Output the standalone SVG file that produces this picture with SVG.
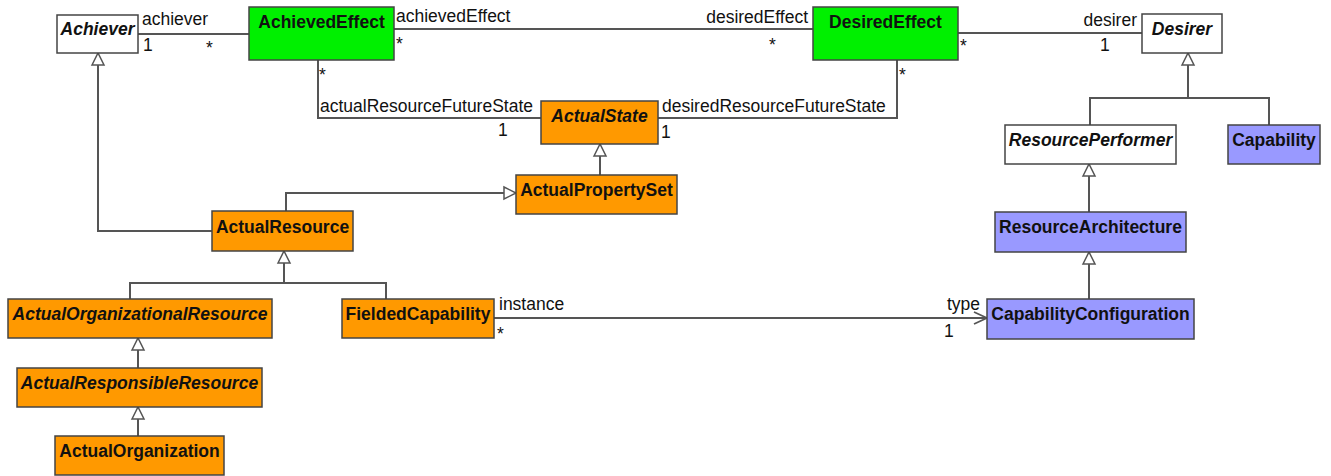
<svg xmlns="http://www.w3.org/2000/svg" width="1331" height="476" viewBox="0 0 1331 476">
<style>
.box{stroke:#444;stroke-width:1.5}
.w{fill:#fff}.g{fill:#00f000}.o{fill:#ff9900}.p{fill:#9999ff}
.t{font-family:"Liberation Sans",Arial,sans-serif;font-weight:bold;font-size:17.5px;fill:#111;text-anchor:middle}
.i{font-style:italic}
.l{font-family:"Liberation Sans",Arial,sans-serif;font-size:17.5px;fill:#111}
.e{text-anchor:end}
.c{fill:none;stroke:#555;stroke-width:2}
.gen{marker-end:url(#tri)}
</style>
<defs>
<marker id="tri" markerUnits="userSpaceOnUse" markerWidth="16" markerHeight="16" refX="13" refY="7" orient="auto" viewBox="0 0 16 14">
<path d="M1,1 L13,7 L1,13 z" fill="#fff" stroke="#555" stroke-width="1.5"/>
</marker>
<marker id="open" markerUnits="userSpaceOnUse" markerWidth="16" markerHeight="16" refX="14" refY="7" orient="auto" viewBox="0 0 16 14">
<path d="M1,1 L14,7 L1,13" fill="none" stroke="#555" stroke-width="1.8"/>
</marker>
</defs>
<g id="connectors">
<path class="c" d="M138,34 H249"/>
<path class="c" d="M394,29 H813"/>
<path class="c" d="M958,33 H1142"/>
<path class="c" d="M318,60 V118 H541"/>
<path class="c" d="M897,60 V118 H658"/>
<path class="c" d="M494,318 H987" marker-end="url(#open)"/>
<path class="c gen" d="M212,231 H98 V53"/>
<path class="c gen" d="M286,211 V193 H516"/>
<path class="c gen" d="M600,175 V144"/>
<path class="c gen" d="M284,283 V251"/>
<path class="c" d="M130,299 V283 H386 V299"/>
<path class="c gen" d="M138,368 V338"/>
<path class="c gen" d="M138,436 V407"/>
<path class="c gen" d="M1188,98 V53"/>
<path class="c" d="M1090,125 V98 H1269 V125"/>
<path class="c gen" d="M1089,212 V164"/>
<path class="c gen" d="M1089,299 V252"/>
<text class="l" x="142" y="25">achiever</text>
<text class="l" x="143" y="51">1</text>
<text class="l" x="206" y="54">*</text>
<text class="l" x="396" y="22">achievedEffect</text>
<text class="l" x="396" y="50">*</text>
<text class="l" x="319" y="81">*</text>
<text class="l e" x="808" y="23">desiredEffect</text>
<text class="l" x="769" y="51">*</text>
<text class="l" x="960" y="52">*</text>
<text class="l" x="899" y="81">*</text>
<text class="l e" x="1137" y="26">desirer</text>
<text class="l" x="1100" y="51">1</text>
<text class="l" x="320" y="112">actualResourceFutureState</text>
<text class="l" x="498" y="136">1</text>
<text class="l" x="662" y="112">desiredResourceFutureState</text>
<text class="l" x="661" y="138">1</text>
<text class="l" x="499" y="310">instance</text>
<text class="l" x="497" y="340">*</text>
<text class="l e" x="980" y="310">type</text>
<text class="l" x="944" y="337">1</text>
</g>
<g id="Achiever"><rect class="box w" x="57" y="15" width="81" height="38"/><text class="t i" x="97.5" y="35">Achiever</text></g>
<g id="AchievedEffect"><rect class="box g" x="249" y="7" width="145" height="53"/><text class="t" x="321.5" y="28">AchievedEffect</text></g>
<g id="DesiredEffect"><rect class="box g" x="813" y="7" width="145" height="53"/><text class="t" x="885.5" y="28">DesiredEffect</text></g>
<g id="Desirer"><rect class="box w" x="1142" y="14" width="80" height="39"/><text class="t i" x="1182" y="35">Desirer</text></g>
<g id="ActualState"><rect class="box o" x="541" y="101" width="117" height="43"/><text class="t i" x="599.5" y="122">ActualState</text></g>
<g id="ResourcePerformer"><rect class="box w" x="1005" y="125" width="171" height="39"/><text class="t i" x="1090.5" y="146">ResourcePerformer</text></g>
<g id="Capability"><rect class="box p" x="1228" y="125" width="92" height="39"/><text class="t" x="1274" y="146">Capability</text></g>
<g id="ActualPropertySet"><rect class="box o" x="516" y="175" width="161" height="39"/><text class="t" x="596.5" y="196">ActualPropertySet</text></g>
<g id="ActualResource"><rect class="box o" x="212" y="211" width="141" height="40"/><text class="t" x="282.5" y="233">ActualResource</text></g>
<g id="ResourceArchitecture"><rect class="box p" x="995" y="212" width="191" height="40"/><text class="t" x="1090.5" y="233">ResourceArchitecture</text></g>
<g id="ActualOrganizationalResource"><rect class="box o" x="8" y="299" width="264" height="39"/><text class="t i" x="140" y="320">ActualOrganizationalResource</text></g>
<g id="FieldedCapability"><rect class="box o" x="342" y="299" width="152" height="39"/><text class="t" x="418" y="320">FieldedCapability</text></g>
<g id="CapabilityConfiguration"><rect class="box p" x="987" y="299" width="207" height="40"/><text class="t" x="1090.5" y="320">CapabilityConfiguration</text></g>
<g id="ActualResponsibleResource"><rect class="box o" x="17" y="368" width="245" height="39"/><text class="t i" x="139.5" y="389">ActualResponsibleResource</text></g>
<g id="ActualOrganization"><rect class="box o" x="55" y="436" width="169" height="39"/><text class="t" x="139.5" y="457">ActualOrganization</text></g>
</svg>
